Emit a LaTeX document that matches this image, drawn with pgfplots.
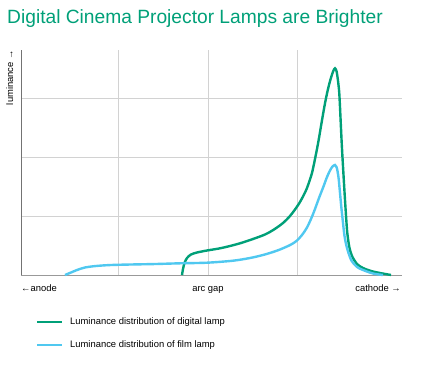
\documentclass[border=0pt]{standalone}
\usepackage{pgfplots}
\pgfplotsset{compat=1.18}
\usepackage{fontspec}
\setmainfont{Liberation Sans}
\definecolor{dgreen}{RGB}{0,160,120}
\definecolor{fblue}{RGB}{80,200,240}
\definecolor{gridc}{RGB}{210,210,210}
\begin{document}
\begin{tikzpicture}[x=1pt,y=-1pt]
\path[use as bounding box] (0,0) rectangle (428,366);
\node[anchor=base west, text=dgreen, font=\fontsize{19.2}{21}\selectfont, inner sep=0] at (7,24) {Digital Cinema Projector Lamps are Brighter};
\begin{axis}[
  at={(21pt,-275pt)}, anchor=south west,
  scale only axis, width=381pt, height=225pt,
  xmin=0, xmax=381, ymin=0, ymax=225,
  axis x line*=bottom, axis y line*=left,
  x axis line style={draw=gray!80, line width=1pt, -},
  y axis line style={draw=gray!90!black, line width=0.9pt, -},
  xtick={97,187,276}, ytick={59,118,177},
  xticklabels={}, yticklabels={},
  major tick length=0pt,
  grid=major, major grid style={gridc, line width=0.7pt},
  clip=false,
]
\addplot[dgreen, line width=2.4pt, smooth, tension=0.5] coordinates {
(161,0) (162,6) (163.5,12) (166,17) (170,20.5) (176,22.5) (186,24.5) (198,26.5) (209,29) (220,32) (232,36) (244,40.5) (253,45.5) (262,52) (269,59) (274,65.5) (279,73) (283,80.5) (286,87) (290.7,101) (294,116) (297.3,133) (300.7,153) (303.5,169) (306,181.5) (308.5,192) (310.7,199.5) (312.5,204.5) (314,206.7) (315.5,204) (316.5,198) (317.5,190) (318.5,178) (320.7,132) (322.5,100) (324,75) (325.3,55) (326.3,42) (328.3,28) (331,19) (336,11) (342,7) (350,4) (359,2) (370,0)
};
\addplot[fblue, line width=2.4pt, smooth, tension=0.5] coordinates {
(44,0) (50,2.5) (56,5) (64,7.5) (75,9) (90,10) (110,10.5) (135,11) (159,11.7) (186,12.3) (212,14.3) (229,17) (242,20) (252,23) (259,25.5) (266,28.5) (271,31) (276,34.5) (281,40) (285.7,47) (290,56) (294,66) (298,77) (302.3,88) (306,98) (309,104.5) (311.5,108.5) (314,110) (315.5,108) (316.5,104) (317.7,96) (319,82) (320.3,68) (321.7,55) (323,43) (324,36) (325.5,29) (327.5,22) (330.7,14) (336,8) (342,5) (352,1.5) (362,0)
};
\end{axis}
\begin{scope}[font=\fontsize{9.4}{11}\selectfont]
\node[anchor=base west, inner sep=0] at (21,291) {←anode};
\node[anchor=base, inner sep=0] at (208,291) {arc gap};
\node[anchor=base east, inner sep=0] at (401,291) {cathode →};
\node[anchor=base east, rotate=90, inner sep=0] at (13,50) {luminance →};
\draw[dgreen, line width=2.2pt] (37,322) -- (62,322);
\draw[fblue, line width=2.2pt] (37,345) -- (62,345);
\node[anchor=west, inner sep=0] at (70,322) {Luminance distribution of digital lamp};
\node[anchor=west, inner sep=0] at (70,345) {Luminance distribution of film lamp};
\end{scope}
\end{tikzpicture}
\end{document}
